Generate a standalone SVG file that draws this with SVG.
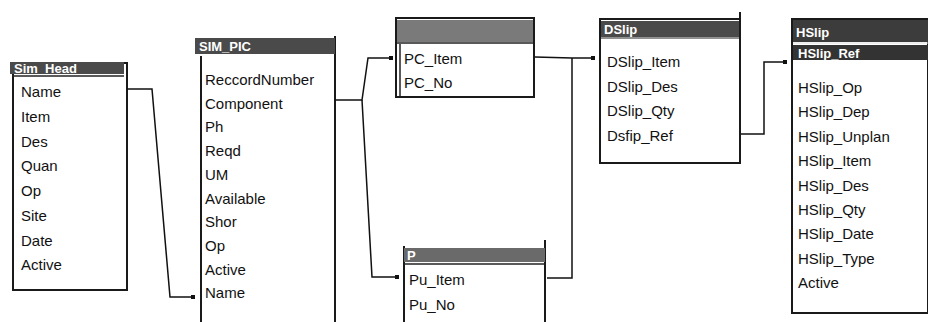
<svg xmlns="http://www.w3.org/2000/svg" width="928" height="322" viewBox="0 0 928 322">
<style>
.box{fill:#fff;stroke:#1a1a1a;stroke-width:2}
.hdr{fill:#4a4a4a}
.ht{font-family:"Liberation Sans",Arial,sans-serif;font-size:13px;font-weight:bold;fill:#fff}
.f{font-family:"Liberation Sans",Arial,sans-serif;font-size:15px;fill:#111}
.c{fill:none;stroke:#111;stroke-width:1.5}
</style>
<defs>
<marker id="tk" markerWidth="4" markerHeight="6" refX="3" refY="3" orient="auto" markerUnits="userSpaceOnUse">
<rect x="0" y="1" width="4" height="4" fill="#111"/>
</marker>
</defs>
<rect width="928" height="322" fill="#fff"/>

<g id="sim_head">
<rect class="box" x="13" y="63" width="114" height="227"/>
<rect class="hdr" x="10" y="62" width="114" height="12"/>
<line x1="12" y1="76" x2="124" y2="76" stroke="#222" stroke-width="1.5"/>
<text class="ht" x="14" y="72.5">Sim_Head</text>
<text class="f" x="21" y="97">Name</text>
<text class="f" x="21" y="121.7">Item</text>
<text class="f" x="21" y="146.5">Des</text>
<text class="f" x="21" y="171.3">Quan</text>
<text class="f" x="21" y="196">Op</text>
<text class="f" x="21" y="220.8">Site</text>
<text class="f" x="21" y="245.6">Date</text>
<text class="f" x="21" y="270.3">Active</text>
</g>

<g id="sim_pic">
<path d="M201,56 V322 M335,36 V322" stroke="#1a1a1a" stroke-width="2" fill="none"/>
<rect class="hdr" x="195" y="38" width="140" height="16"/>
<text class="ht" x="199" y="51">SIM_PIC</text>
<text class="f" x="205" y="85">ReccordNumber</text>
<text class="f" x="205" y="108.7">Component</text>
<text class="f" x="205" y="132.4">Ph</text>
<text class="f" x="205" y="156.1">Reqd</text>
<text class="f" x="205" y="179.8">UM</text>
<text class="f" x="205" y="203.5">Available</text>
<text class="f" x="205" y="227.2">Shor</text>
<text class="f" x="205" y="250.9">Op</text>
<text class="f" x="205" y="274.6">Active</text>
<text class="f" x="205" y="298.3">Name</text>
</g>

<g id="pc">
<rect class="box" x="396" y="18" width="138" height="79"/>
<rect x="397" y="20" width="136" height="22" fill="#7a7a7a"/>
<line x1="397" y1="43" x2="533" y2="43" stroke="#222" stroke-width="1.5"/>
<line x1="400" y1="44" x2="400" y2="96" stroke="#222" stroke-width="1.5"/>
<text class="f" x="404" y="64">PC_Item</text>
<text class="f" x="404" y="88">PC_No</text>
</g>

<g id="pu">
<path d="M404,246 V322 M545,240 V322" stroke="#1a1a1a" stroke-width="2" fill="none"/>
<rect x="404" y="248" width="141" height="14" fill="#6a6a6a"/>
<line x1="404" y1="264" x2="545" y2="264" stroke="#222" stroke-width="1.5"/>
<text class="ht" x="407" y="260">P</text>
<text class="f" x="409" y="285">Pu_Item</text>
<text class="f" x="409" y="310">Pu_No</text>
</g>

<g id="dslip">
<rect class="box" x="600" y="19" width="140" height="144"/>
<line x1="740" y1="12" x2="740" y2="20" stroke="#1a1a1a" stroke-width="2"/>
<rect class="hdr" x="601" y="21" width="138" height="16"/>
<line x1="601" y1="38" x2="739" y2="38" stroke="#222" stroke-width="1"/>
<text class="ht" x="604" y="34">DSlip</text>
<text class="f" x="607" y="67">DSlip_Item</text>
<text class="f" x="607" y="91.5">DSlip_Des</text>
<text class="f" x="607" y="116">DSlip_Qty</text>
<text class="f" x="607" y="140.5">Dsfip_Ref</text>
</g>

<g id="hslip">
<rect class="box" x="792" y="19" width="136" height="294"/>
<rect x="793" y="20" width="135" height="22" fill="#3c3c3c"/>
<line x1="793" y1="43" x2="928" y2="43" stroke="#ddd" stroke-width="1"/>
<rect x="793" y="45" width="135" height="15" fill="#333"/>
<text class="ht" x="796" y="37" font-size="15">HSlip</text>
<text class="ht" x="798" y="57.5">HSlip_Ref</text>
<text class="f" x="798" y="93">HSlip_Op</text>
<text class="f" x="798" y="117.4">HSlip_Dep</text>
<text class="f" x="798" y="141.8">HSlip_Unplan</text>
<text class="f" x="798" y="166.2">HSlip_Item</text>
<text class="f" x="798" y="190.6">HSlip_Des</text>
<text class="f" x="798" y="215">HSlip_Qty</text>
<text class="f" x="798" y="239.4">HSlip_Date</text>
<text class="f" x="798" y="263.8">HSlip_Type</text>
<text class="f" x="798" y="288.2">Active</text>
</g>

<g id="connectors">
<polyline class="c" points="127,89 152,89 170,297 194,297" marker-end="url(#tk)"/>
<polyline class="c" points="335,100 362,100 368,58 392,58" marker-end="url(#tk)"/>
<polyline class="c" points="362,100 372,277 398,277" marker-end="url(#tk)"/>
<polyline class="c" points="535,57 572,58 594,58" marker-end="url(#tk)"/>
<polyline class="c" points="547,278 572,278 572,58"/>
<polyline class="c" points="741,134 764,134 764,62 786,62" marker-end="url(#tk)"/>
</g>
</svg>
